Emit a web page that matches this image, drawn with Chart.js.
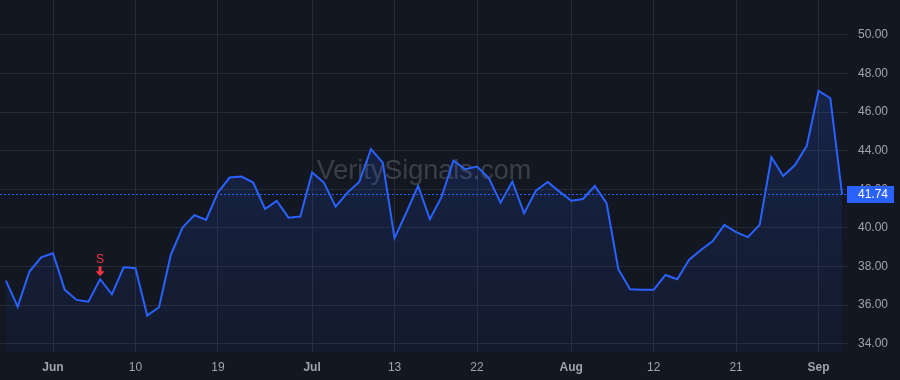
<!DOCTYPE html>
<html>
<head>
<meta charset="utf-8">
<script src="https://cdn.jsdelivr.net/npm/chart.js@4/dist/chart.umd.min.js"></script>
<style>
  body { margin: 0; background: #131722; }
  #wrap { width: 900px; height: 380px; }
</style>
</head>
<body>
<div id="wrap"><canvas id="price"></canvas></div>
<script>
// daily closes
var closes = [37.27, 35.92, 37.74, 38.48, 38.69, 36.79, 36.27, 36.18, 37.34, 36.56,
    37.96, 37.91, 35.46, 35.89, 38.60, 40.02, 40.66, 40.41, 41.83, 42.61,
    42.66, 42.35, 40.98, 41.40, 40.53, 40.59, 42.87, 42.35, 41.10, 41.83,
    42.38, 44.08, 43.38, 39.47, 40.80, 42.18, 40.45, 41.62, 43.49, 43.04,
    43.18, 42.58, 41.31, 42.40, 40.76, 41.93, 42.38, 41.88, 41.41, 41.50,
    42.18, 41.28, 37.86, 36.82, 36.80, 36.79, 37.56, 37.34, 38.34, 38.86,
    39.31, 40.16, 39.78, 39.52, 40.16, 43.66, 42.69, 43.26, 44.25, 47.10,
    46.72, 41.74];
var days = closes.map(function (v, i) { return i; });
var dateTicks = { 4: 'Jun', 11: '10', 18: '19', 26: 'Jul', 33: '13', 40: '22', 48: 'Aug', 55: '12', 62: '21', 69: 'Sep' };
var monthTicks = [4, 26, 48, 69];
var priceTicks = [34, 36, 38, 40, 42, 44, 46, 48, 50];
var signalIndex = 8;
var signalText = 'S';
var lastPrice = closes[closes.length - 1];

var gridColor = '#262a35';
var textColor = '#a0a3ab';
var blue = '#2962ff';

function noPadding(s) {
    s.paddingTop = 0;
    s.paddingBottom = 0;
    s.paddingLeft = 0;
    s.paddingRight = 0;
}

var overlay = {
    id: 'overlay',
    beforeDatasetsDraw: function (chart) {
        var ctx = chart.ctx;
        ctx.save();
        ctx.font = '27px "Liberation Sans", Arial, sans-serif';
        ctx.fillStyle = 'rgba(255,255,255,0.17)';
        ctx.textAlign = 'center';
        ctx.textBaseline = 'middle';
        ctx.fillText('VeritySignals.com', 424, 172);
        ctx.restore();
    },
    afterDatasetsDraw: function (chart) {
        var ctx = chart.ctx;
        var a = chart.chartArea;
        var y = chart.scales.y.getPixelForValue(lastPrice);
        ctx.save();
        // last price line
        ctx.strokeStyle = blue;
        ctx.lineWidth = 1;
        ctx.setLineDash([2, 2]);
        ctx.beginPath();
        ctx.moveTo(a.left, Math.round(y) + 0.5);
        ctx.lineTo(a.right, Math.round(y) + 0.5);
        ctx.stroke();
        ctx.setLineDash([]);
        // price tag
        ctx.fillStyle = blue;
        ctx.fillRect(a.right - 1, Math.round(y) - 8, 47, 17);
        ctx.fillStyle = '#ffffff';
        ctx.font = '12px "Liberation Sans", Arial, sans-serif';
        ctx.textBaseline = 'middle';
        ctx.textAlign = 'left';
        ctx.fillText(lastPrice.toFixed(2), a.right + 10, Math.round(y) + 1);
        // signal marker
        var px = chart.scales.x.getPixelForValue(signalIndex);
        var py = chart.scales.y.getPixelForValue(closes[signalIndex]);
        ctx.fillStyle = '#f23645';
        ctx.textAlign = 'center';
        ctx.font = '12px "Liberation Sans", Arial, sans-serif';
        ctx.fillText(signalText, px, py - 20);
        ctx.fillRect(px - 1.5, py - 13, 3, 6);
        ctx.beginPath();
        ctx.moveTo(px - 4.5, py - 8);
        ctx.lineTo(px + 4.5, py - 8);
        ctx.lineTo(px, py - 3);
        ctx.closePath();
        ctx.fill();
        ctx.restore();
    }
};

window.addEventListener('load', function () {
    var ctx = document.getElementById('price').getContext('2d');
    new Chart(ctx, {
        type: 'line',
        data: {
            labels: days,
            datasets: [{
                data: closes,
                borderColor: blue,
                borderWidth: 2,
                tension: 0,
                pointRadius: 0,
                fill: 'start',
                backgroundColor: function (c) {
                    var a = c.chart.chartArea;
                    if (!a) return 'rgba(41,98,255,0.1)';
                    var g = c.chart.ctx.createLinearGradient(0, a.top, 0, a.bottom);
                    g.addColorStop(0, 'rgba(41,98,255,0.22)');
                    g.addColorStop(1, 'rgba(41,98,255,0.05)');
                    return g;
                }
            }]
        },
        options: {
            responsive: true,
            maintainAspectRatio: false,
            animation: false,
            layout: { padding: 0 },
            plugins: {
                legend: { display: false },
                tooltip: { enabled: false }
            },
            scales: {
                x: {
                    offset: true,
                    border: { display: false },
                    grid: {
                        drawTicks: false,
                        color: function (c) { return dateTicks[c.index] ? gridColor : 'transparent'; }
                    },
                    ticks: {
                        autoSkip: false,
                        maxRotation: 0,
                        padding: 8,
                        color: textColor,
                        font: function (c) {
                            return {
                                family: '"Liberation Sans", Arial, sans-serif',
                                size: 12,
                                weight: monthTicks.indexOf(c.index) >= 0 ? 'bold' : 'normal'
                            };
                        },
                        callback: function (v, i) { return dateTicks[i] || ''; }
                    },
                    afterFit: function (s) { s.height = 28; noPadding(s); }
                },
                y: {
                    position: 'right',
                    min: 33.57,
                    max: 51.81,
                    border: { display: false },
                    grid: { drawTicks: false, color: gridColor },
                    afterBuildTicks: function (s) {
                        s.ticks = priceTicks.map(function (v) { return { value: v }; });
                    },
                    ticks: {
                        padding: 10,
                        color: textColor,
                        font: { family: '"Liberation Sans", Arial, sans-serif', size: 12 },
                        callback: function (v) { return v.toFixed(2); }
                    },
                    afterFit: function (s) { s.width = 52; noPadding(s); }
                }
            }
        },
        plugins: [overlay]
    });
});
</script>
</body>
</html>
